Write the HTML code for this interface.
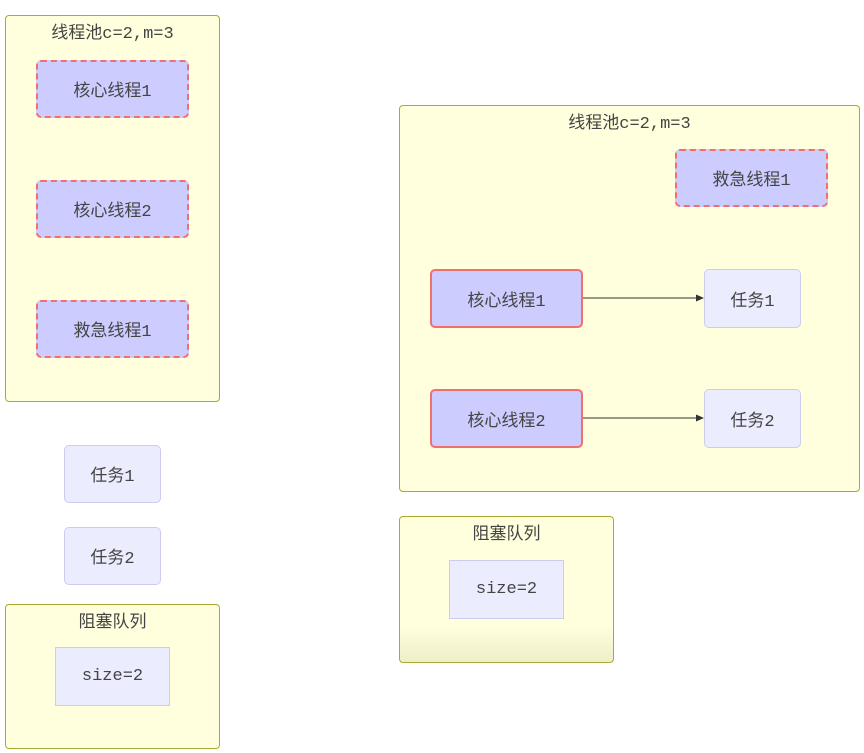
<!DOCTYPE html>
<html><head><meta charset="utf-8"><style>
body{margin:0;width:864px;height:753px;background:#fff;position:relative;overflow:hidden;font-family:"Liberation Mono","Noto Sans CJK SC",monospace;color:#333}
.c{position:absolute;background:#ffffde;border:1px solid #aaaa33;border-radius:4px;box-sizing:border-box}
.t{position:absolute;left:0;right:0;text-align:center;font-size:17px;color:#444;top:2px}
.n{position:absolute;box-sizing:border-box;display:flex;align-items:center;justify-content:center;font-size:17px;color:#444;border-radius:5px}
.d{background:#ccccff;border:2px dashed #f07070}
.s{background:#ccccff;border:2px solid #f07070}
.k{background:#ececff;border:1px solid #ccccee}
.q{background:#ececff;border:1px solid #ccccee;border-radius:0}
</style></head><body>
<div class="c" style="left:5px;top:15px;width:215px;height:387px"><div class="t">线程池c=2,m=3</div></div>
<div class="n d" style="left:36px;top:60px;width:153px;height:58px">核心线程1</div>
<div class="n d" style="left:36px;top:180px;width:153px;height:58px">核心线程2</div>
<div class="n d" style="left:36px;top:300px;width:153px;height:58px">救急线程1</div>
<div class="n k" style="left:64px;top:445px;width:97px;height:58px">任务1</div>
<div class="n k" style="left:64px;top:527px;width:97px;height:58px">任务2</div>
<div class="c" style="left:5px;top:604px;width:215px;height:145px"><div class="t">阻塞队列</div></div>
<div class="n q" style="left:55px;top:647px;width:115px;height:59px">size=2</div>

<div class="c" style="left:399px;top:105px;width:461px;height:387px"><div class="t">线程池c=2,m=3</div></div>
<div class="n d" style="left:675px;top:149px;width:153px;height:58px">救急线程1</div>
<div class="n s" style="left:430px;top:269px;width:153px;height:59px">核心线程1</div>
<div class="n k" style="left:704px;top:269px;width:97px;height:59px">任务1</div>
<div class="n s" style="left:430px;top:389px;width:153px;height:59px">核心线程2</div>
<div class="n k" style="left:704px;top:389px;width:97px;height:59px">任务2</div>
<svg style="position:absolute;left:0;top:0" width="864" height="753">
<line x1="583" y1="298" x2="698" y2="298" stroke="#333" stroke-width="1"/>
<polygon points="704,298 696,294.5 696,301.5" fill="#333"/>
<line x1="583" y1="418" x2="698" y2="418" stroke="#333" stroke-width="1"/>
<polygon points="704,418 696,414.5 696,421.5" fill="#333"/>
</svg>
<div class="c" style="left:399px;top:516px;width:215px;height:147px;background:linear-gradient(#ffffde 75%,#eeeec8)"><div class="t">阻塞队列</div></div>
<div class="n q" style="left:449px;top:560px;width:115px;height:59px">size=2</div>
</body></html>
